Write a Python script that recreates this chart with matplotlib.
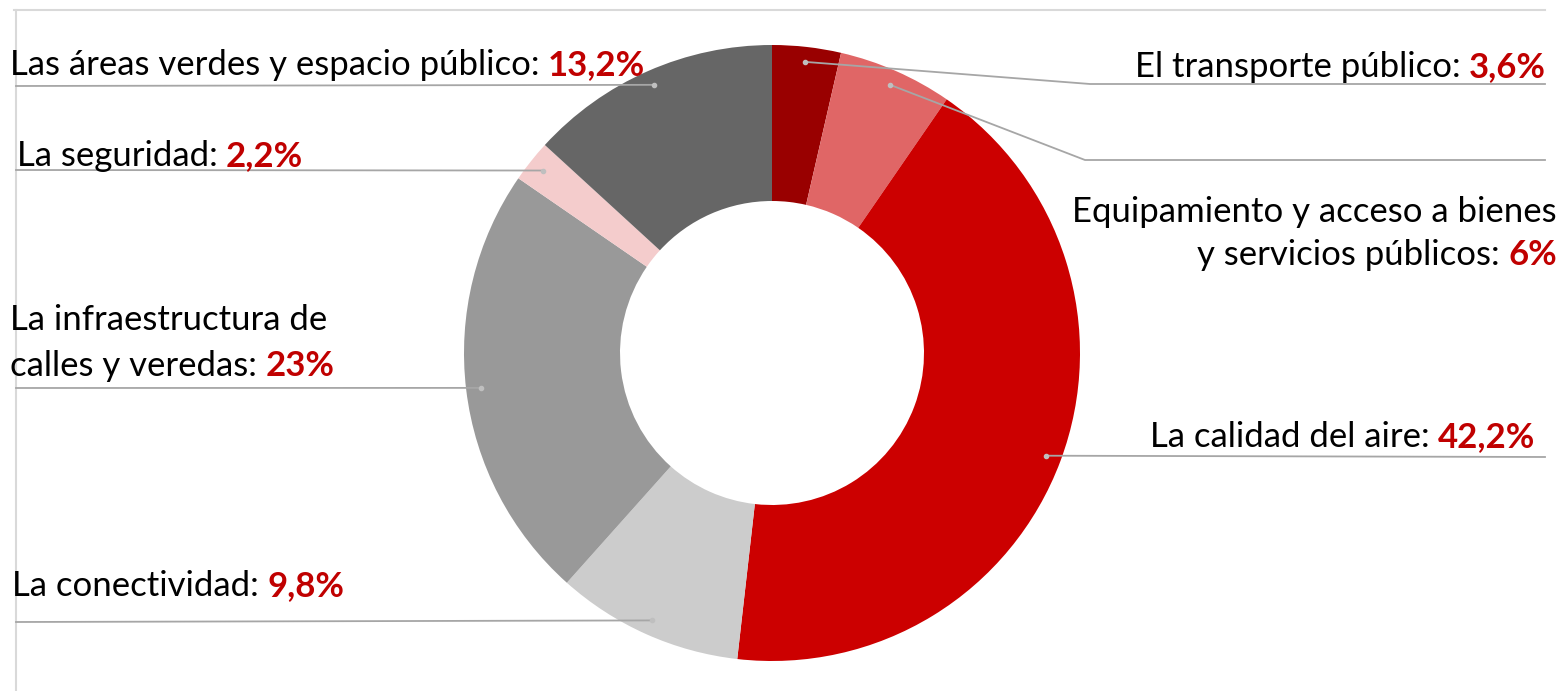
import numpy as np
import matplotlib
matplotlib.use("Agg")
from matplotlib import pyplot as plt

# data, in clockwise order starting at 12 o'clock
labels = ["El transporte público", "Equipamiento y acceso a bienes\ny servicios públicos",
          "La calidad del aire", "La conectividad", "La infraestructura de\ncalles y veredas",
          "La seguridad", "Las áreas verdes y espacio público"]
values = [3.6, 6.0, 42.2, 9.8, 23.0, 2.2, 13.2]
pct_labels = ["3,6%", "6%", "42,2%", "9,8%", "23%", "2,2%", "13,2%"]
colors = ["#990000", "#E06666", "#CC0000", "#CCCCCC", "#999999", "#F4CCCC", "#666666"]

W, H = 1563, 691
plt.rcParams['font.family'] = ['Lato', 'DejaVu Sans']
FS = 25
RED = "#C00000"
LINE = "#A6A6A6"

fig = plt.figure(figsize=(W / 100, H / 100), dpi=100)
ax = fig.add_axes([0, 0, 1, 1])

cx, cy = 772, H - 353
R = 308
ax.pie(values, colors=colors, startangle=90, counterclock=False,
       center=(cx, cy), radius=R, wedgeprops=dict(width=156, linewidth=0),
       frame=True)
ax.set_xlim(0, W)
ax.set_ylim(0, H)
ax.set_aspect('auto')
ax.axis('off')

# frame lines
ax.plot([14, 1545], [H - 10, H - 10], color="#D9D9D9", lw=1.5)
ax.plot([16, 16], [H - 10, 0], color="#D9D9D9", lw=1.5)

# anchor points at the middle of each wedge
cum = np.cumsum([0] + values[:-1])
mids = 90 - (cum + np.array(values) / 2) * 3.6
r_dot = 293
ax_pts = cx + r_dot * np.cos(np.radians(mids))
ay_pts = cy + r_dot * np.sin(np.radians(mids))

# label layout: (side, line y, [elbow x,y], text x, text baselines)
layout = {
    0: ("right", 84, (1090, 84), 1546, [77]),
    1: ("right", 160, (1085, 160), 1557, [222, 265]),
    2: ("right", 457, None, 1535, [447]),
    3: ("left", 622, None, 12, [596]),
    4: ("left", 388, None, 10, [330, 376]),
    5: ("left", 170, None, 17, [166]),
    6: ("left", 86, None, 10, [75]),
}

for i, (side, ly, elbow, tx, baselines) in layout.items():
    px, py = ax_pts[i], ay_pts[i]
    if side == "left":
        ax.plot([16, px], [H - ly, py], color=LINE, lw=1.3, zorder=3)
    else:
        if elbow is None:
            ax.plot([px, 1545], [py, H - ly], color=LINE, lw=1.3, zorder=3)
        else:
            ax.plot([px, elbow[0], 1545], [py, H - elbow[1], H - ly],
                    color=LINE, lw=1.3, zorder=3)
    ax.plot(px, py, 'o', color="#BFBFBF", ms=3, zorder=4)

    lines = labels[i].split("\n")
    ha = "left" if side == "left" else "right"
    for ln, by in zip(lines[:-1], baselines[:-1]):
        ax.text(tx, H - by, ln, fontsize=FS, ha=ha, va="baseline", color="black")
    by = baselines[-1]
    if side == "left":
        t = ax.text(tx, H - by, lines[-1] + ":", fontsize=FS, ha="left",
                    va="baseline", color="black")
        ax.annotate(pct_labels[i], xy=(1, 0), xycoords=t, xytext=(6, 0),
                    textcoords="offset points", fontsize=FS, fontweight="bold",
                    color=RED, ha="left", va="bottom")
    else:
        t = ax.text(tx, H - by, pct_labels[i], fontsize=FS, ha="right",
                    va="baseline", color=RED, fontweight="bold")
        ax.annotate(lines[-1] + ":", xy=(0, 0), xycoords=t, xytext=(-6, 0),
                    textcoords="offset points", fontsize=FS, color="black",
                    ha="right", va="bottom")

fig.savefig("out.png", dpi=100)
